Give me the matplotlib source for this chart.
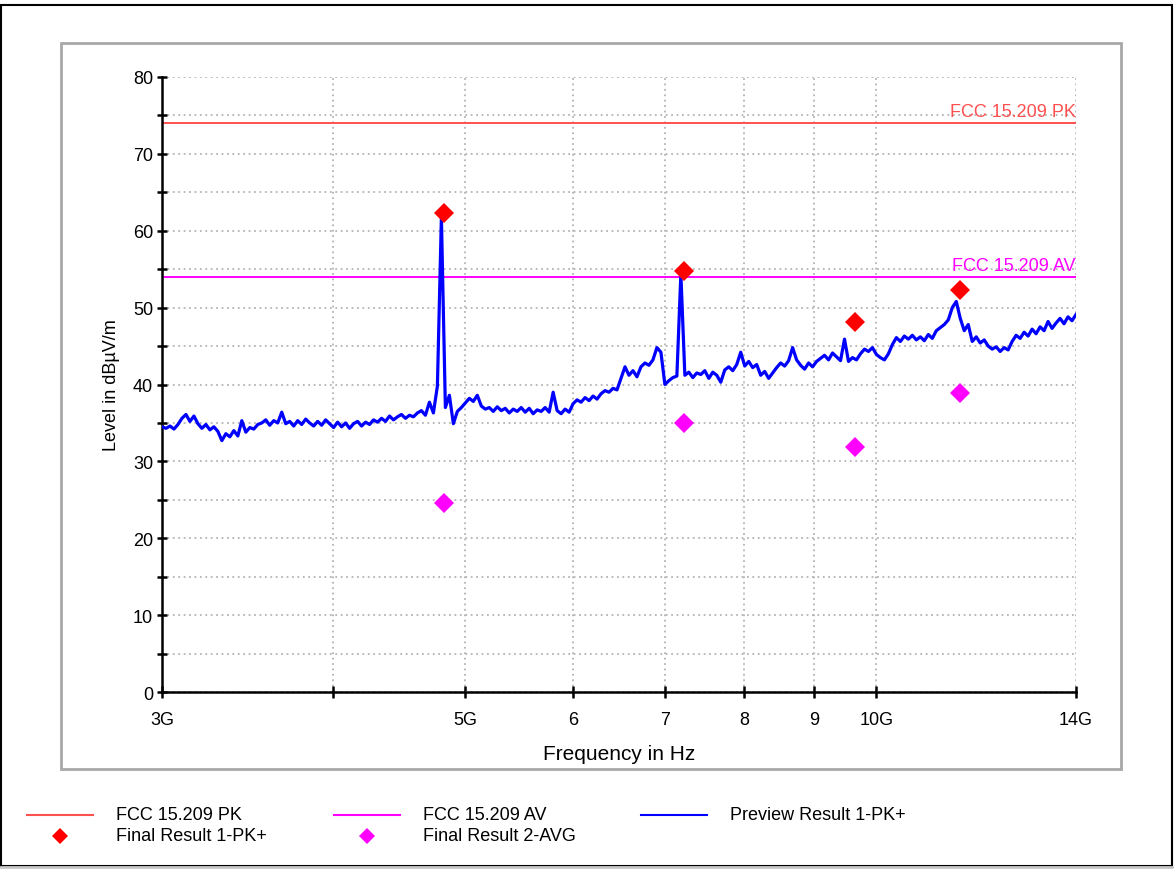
import numpy as np
import matplotlib
matplotlib.use("Agg")
import matplotlib.pyplot as plt
from matplotlib.lines import Line2D
from matplotlib.patches import Rectangle

plt.rcParams['font.family'] = ['Liberation Sans', 'DejaVu Sans']

# preview sweep, 3 GHz .. 14 GHz, log spaced points (dBuV/m)
preview_db = [
    34.5, 34.3, 34.6, 34.2, 34.8, 35.6, 36.1, 35.2, 35.9, 34.9,
    34.3, 34.8, 34.1, 34.5, 33.9, 32.7, 33.6, 33.2, 34.0, 33.3,
    35.3, 33.8, 34.4, 34.2, 34.8, 35.0, 35.4, 34.7, 35.3, 35.0,
    36.4, 34.9, 35.2, 34.6, 35.3, 34.8, 35.5, 35.0, 34.6, 35.2,
    34.7, 35.4, 34.9, 34.4, 35.1, 34.5, 35.0, 34.3, 34.9, 35.2,
    34.6, 35.1, 34.8, 35.4, 35.1, 35.6, 35.2, 35.9, 35.4, 35.8,
    36.1, 35.6, 36.0, 35.8, 36.3, 36.6, 36.0, 37.7, 36.3, 39.8,
    61.8, 37.0, 38.6, 34.9, 36.5, 37.0, 37.6, 38.2, 37.8, 38.6,
    37.2, 36.8, 37.0, 36.5, 37.1, 36.6, 36.9, 36.3, 36.8, 36.5,
    37.0, 36.4, 36.9, 36.2, 36.7, 36.5, 37.0, 36.4, 39.0, 36.6,
    36.2, 36.8, 36.4, 37.5, 38.0, 37.7, 38.3, 37.9, 38.5, 38.1,
    38.8, 39.2, 39.0, 39.5, 39.3, 40.8, 42.3, 41.2, 41.8, 41.0,
    42.3, 42.8, 42.5, 43.2, 44.8, 44.2, 40.0, 40.5, 40.9, 41.1,
    54.4, 41.2, 41.6, 40.9, 41.5, 41.3, 41.8, 40.8, 41.6, 41.2,
    40.3, 41.9, 42.3, 41.8, 42.6, 44.2, 42.4, 43.0, 42.2, 42.6,
    41.2, 41.7, 40.8, 41.5, 42.2, 42.8, 42.4, 43.1, 44.8, 43.2,
    42.5, 42.0, 42.8, 42.3, 43.0, 43.4, 43.8, 43.2, 44.1, 43.6,
    43.1, 45.9, 43.0, 43.5, 43.2, 44.0, 44.6, 44.3, 44.8, 43.9,
    43.5, 43.2, 44.0, 45.2, 46.1, 45.6, 46.3, 45.9, 46.4, 45.8,
    46.2, 45.7, 46.5, 46.0, 47.0, 47.4, 47.8, 48.4, 50.0, 50.8,
    48.6, 47.0, 47.8, 45.6, 46.2, 45.4, 45.8, 45.0, 44.6, 44.9,
    44.3, 44.8, 44.5, 45.6, 46.4, 46.0, 46.8, 46.3, 47.2, 46.6,
    47.5, 47.0, 48.2, 47.3, 48.0, 48.6, 47.9, 48.8, 48.3, 49.1,
]
f_start, f_stop = 3.0, 14.0  # GHz

# final measurements
final_freq = [4.824, 7.236, 9.648, 11.52]
final_pk = [62.3, 54.8, 48.1, 52.3]
final_avg = [24.6, 35.0, 31.9, 38.9]

# FCC 15.209 limits above 1 GHz
limit_pk = 74.0
limit_av = 54.0

xticks = [3, 4, 5, 6, 7, 8, 9, 10, 14]
xticklabels = ['3G', '', '5G', '6', '7', '8', '9', '10G', '14G']

c_pk_line = '#ff5050'
c_av_line = '#ff00ff'
c_trace = '#0000ff'
c_pk_mark = '#ff0000'
c_av_mark = '#ff00ff'

W, H = 1176, 870
fig = plt.figure(figsize=(W / 100, H / 100), dpi=100)


def fx(px):
    return px / W


def fy(py):
    return 1 - py / H


# outer frame + grey panel
fig.add_artist(Rectangle((fx(1), fy(867)), fx(1171), (866 - 5) / H,
                         transform=fig.transFigure, fill=False,
                         edgecolor='black', lw=1.5))
fig.add_artist(Line2D([fx(1), fx(1172)], [fy(868), fy(868)],
                      transform=fig.transFigure, color='#c8c8c8', lw=2))
fig.add_artist(Rectangle((fx(61), fy(770)), fx(1060), (770 - 44) / H,
                         transform=fig.transFigure, fill=False,
                         edgecolor='#a8a8a8', lw=2))

ax = fig.add_axes([fx(162), fy(693), fx(1076 - 162), (693 - 78) / H])
ax.set_xscale('log')
ax.set_xlim(f_start, f_stop)
ax.set_ylim(0, 80)

freq = np.geomspace(f_start, f_stop, len(preview_db))
ax.plot(freq, preview_db, color=c_trace, lw=2.3, zorder=3)

ax.axhline(limit_pk, color=c_pk_line, lw=1.4, zorder=2)
ax.axhline(limit_av, color=c_av_line, lw=1.4, zorder=2)
ax.text(f_stop, limit_pk + 0.4, 'FCC 15.209 PK', color=c_pk_line,
        ha='right', va='bottom', fontsize=13)
ax.text(f_stop, limit_av + 0.4, 'FCC 15.209 AV', color=c_av_line,
        ha='right', va='bottom', fontsize=13)

ax.plot(final_freq, final_pk, 'D', color=c_pk_mark, ms=10.5, mew=0, zorder=4)
ax.plot(final_freq, final_avg, 'D', color=c_av_mark, ms=10.5, mew=0, zorder=4)

ax.xaxis.set_major_locator(matplotlib.ticker.FixedLocator(xticks))
ax.xaxis.set_major_formatter(matplotlib.ticker.FixedFormatter(xticklabels))
ax.xaxis.set_minor_locator(matplotlib.ticker.NullLocator())
ax.yaxis.set_major_locator(matplotlib.ticker.MultipleLocator(10))
ax.yaxis.set_minor_locator(matplotlib.ticker.MultipleLocator(5))

ax.grid(True, which='both', color='#b4b4b4', ls=(0, (1, 2)), lw=1.3)
ax.set_axisbelow(True)
for s in ['top', 'right']:
    ax.spines[s].set_visible(False)
for s in ['left', 'bottom']:
    ax.spines[s].set_linewidth(1.8)
ax.tick_params(axis='y', which='both', direction='inout', length=7,
               width=1.8, labelsize=13, pad=3)
ax.tick_params(axis='x', which='major', direction='inout', length=9,
               width=1.8, labelsize=13, pad=9)

ax.set_xlabel('Frequency in Hz', fontsize=15, labelpad=12)
ax.set_ylabel('Level in dBµV/m', fontsize=13, labelpad=9)

# legend below the panel
legend_items = [
    (27, 816, 'line', c_pk_line, 'FCC 15.209 PK'),
    (334, 816, 'line', c_av_line, 'FCC 15.209 AV'),
    (641, 816, 'line', c_trace, 'Preview Result 1-PK+'),
    (27, 837, 'mark', c_pk_mark, 'Final Result 1-PK+'),
    (334, 837, 'mark', c_av_mark, 'Final Result 2-AVG'),
]
for x0, y0, kind, col, label in legend_items:
    if kind == 'line':
        fig.add_artist(Line2D([fx(x0), fx(x0 + 66)], [fy(y0), fy(y0)],
                              transform=fig.transFigure, color=col, lw=1.5))
    else:
        fig.add_artist(Line2D([fx(x0 + 33)], [fy(y0)], marker='D', ms=8,
                              mew=0, color=col, transform=fig.transFigure))
    fig.text(fx(x0 + 89), fy(y0), label, fontsize=13, va='center', ha='left')

fig.savefig('out.png', dpi=100)
